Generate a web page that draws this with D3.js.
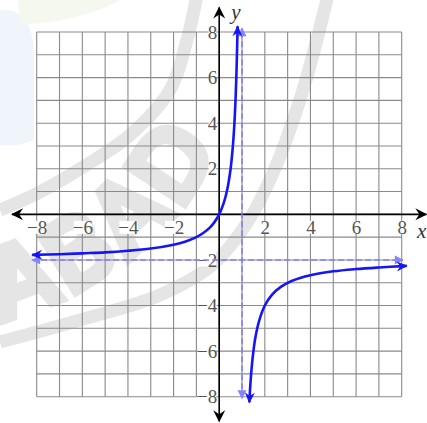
<!DOCTYPE html>
<html lang="en">
<head>
<meta charset="UTF-8">
<title>Rational function graph</title>
<script src="https://d3js.org/d3.v7.min.js"></script>
<style>
    body { margin: 0; background: #ffffff; }
    svg { display: block; }
</style>
</head>
<body>
<div id="chart"></div>
<script>
    // tick labels on both axes
    const xTicks = [-8, -6, -4, -2, 2, 4, 6, 8];
    const yTicks = [-8, -6, -4, -2, 2, 4, 6, 8];

    // left / upper branch
    const leftX = [-8.2, -7, -6, -5, -4, -3, -2, -1.5, -1, -0.7, -0.4, -0.2, 0, 0.2, 0.35, 0.5, 0.6, 0.67, 0.72, 0.76, 0.79, 0.806];
    const leftY = [-1.78, -1.75, -1.71, -1.67, -1.6, -1.5, -1.33, -1.2, -1.0, -0.82, -0.57, -0.33, 0, 0.5, 1.08, 2, 3, 4.06, 5.14, 6.33, 7.52, 8.25];

    // right / lower branch
    const rightX = [1.32, 1.36, 1.42, 1.5, 1.6, 1.75, 2, 2.3, 2.7, 3.2, 4, 5, 6, 7, 8.22];
    const rightY = [-8.25, -7.56, -6.76, -6, -5.33, -4.67, -4, -3.54, -3.18, -2.91, -2.67, -2.5, -2.4, -2.33, -2.26];

    // asymptotes x = 1 and y = -2 (dashed)
    const vAsym = { x: 1, y: [-8.07, 8.16] };
    const hAsym = { y: -2, x: [-8.2, 8.05] };

    const width = 427, height = 423;
    const gridLines = d3.range(-8, 9);
    const axisReach = 9.08;
    const labelFont = "'Liberation Serif', 'DejaVu Serif', serif";

    const x = d3.scaleLinear().domain([-8, 8]).range([36.7, 401.7]);
    const y = d3.scaleLinear().domain([-8, 8]).range([396.7, 32]);

    const svg = d3.select("#chart").append("svg")
        .attr("width", width).attr("height", height);

    // arrow heads
    const defs = svg.append("defs");
    function marker(id, d, color) {
        defs.append("marker")
            .attr("id", id)
            .attr("viewBox", "-16 -8 18 16")
            .attr("refX", 0).attr("refY", 0)
            .attr("markerWidth", 18).attr("markerHeight", 16)
            .attr("markerUnits", "userSpaceOnUse")
            .attr("orient", "auto-start-reverse")
            .append("path").attr("d", d).attr("fill", color);
    }
    marker("axisArrow", "M1,0 L-11,-6 L-7,0 L-11,6 Z", "#000");
    marker("curveArrow", "M1,0 L-10,-5 L-6.5,0 L-10,5 Z", "#1515f5");
    marker("asymArrow", "M1,0 L-8,-4.5 L-8,4.5 Z", "#8585ff");

    // faint watermark behind everything
    const wm = svg.append("g").attr("class", "watermark");
    wm.append("path")
        .attr("d", "M0,10 C20,8 35,20 34,60 L34,140 C20,146 8,146 0,145 Z")
        .attr("fill", "#f0f4fb");
    wm.append("path")
        .attr("d", "M18,0 L120,0 C100,12 60,24 20,24 Z")
        .attr("fill", "#f4f8ee");
    const wmLine = d3.line().curve(d3.curveCatmullRom);
    wm.append("path")
        .attr("d", wmLine([[328, -5], [303, 90], [273, 173], [247, 223], [212, 265], [160, 295], [80, 320], [0, 342]]))
        .attr("fill", "none").attr("stroke", "#e5e5e5").attr("stroke-width", 13);
    wm.append("path")
        .attr("d", wmLine([[197, -5], [187, 40], [170, 90], [130, 135], [83, 167], [40, 192], [0, 210]]))
        .attr("fill", "none").attr("stroke", "#e5e5e5").attr("stroke-width", 13);
    const cx = -79, cy = -7, r = 335;
    const a0 = 76 * Math.PI / 180, a1 = 5 * Math.PI / 180;
    defs.append("path").attr("id", "wmText")
        .attr("d", `M${cx + r * Math.cos(a0)},${cy + r * Math.sin(a0)} A${r},${r} 0 0 0 ${cx + r * Math.cos(a1)},${cy + r * Math.sin(a1)}`);
    wm.append("text")
        .attr("font-family", "'DejaVu Sans', sans-serif")
        .attr("font-size", 92)
        .attr("fill", "none").attr("stroke", "#e5e5e5").attr("stroke-width", 10)
        .attr("letter-spacing", 7)
        .append("textPath").attr("href", "#wmText")
        .text("ABAD");

    // grid
    const grid = svg.append("g").attr("stroke", "#8a8a8a").attr("stroke-width", 1.1);
    grid.selectAll(".gx").data(gridLines).join("line")
        .attr("x1", d => x(d)).attr("x2", d => x(d))
        .attr("y1", y(-8)).attr("y2", y(8));
    grid.selectAll(".gy").data(gridLines).join("line")
        .attr("y1", d => y(d)).attr("y2", d => y(d))
        .attr("x1", x(-8)).attr("x2", x(8));

    // axes with arrows at both ends
    svg.append("line")
        .attr("x1", x(-axisReach)).attr("x2", x(axisReach))
        .attr("y1", y(0)).attr("y2", y(0))
        .attr("stroke", "#000").attr("stroke-width", 1.6)
        .attr("marker-start", "url(#axisArrow)").attr("marker-end", "url(#axisArrow)");
    svg.append("line")
        .attr("y1", y(-axisReach)).attr("y2", y(axisReach))
        .attr("x1", x(0)).attr("x2", x(0))
        .attr("stroke", "#000").attr("stroke-width", 1.6)
        .attr("marker-start", "url(#axisArrow)").attr("marker-end", "url(#axisArrow)");

    // tick labels; a white box underneath hides the grid behind them
    function styleTicks(g) {
        g.select(".domain").remove();
        g.selectAll(".tick text")
            .attr("font-family", labelFont)
            .attr("font-size", 19)
            .attr("fill", "#555");
        g.selectAll(".tick").each(function () {
            const t = d3.select(this).select("text");
            const b = t.node().getBBox();
            d3.select(this).insert("rect", "text")
                .attr("x", b.x + 1).attr("y", b.y + 4)
                .attr("width", b.width - 2).attr("height", b.height - 8)
                .attr("fill", "#fff");
        });
    }
    svg.append("g")
        .attr("transform", `translate(0,${y(0)})`)
        .call(d3.axisBottom(x).tickValues(xTicks).tickSize(0).tickPadding(6))
        .call(styleTicks);
    svg.append("g")
        .attr("transform", `translate(${x(0)},0)`)
        .call(d3.axisLeft(y).tickValues(yTicks).tickSize(0).tickPadding(2))
        .call(styleTicks);

    svg.append("text")
        .attr("font-family", labelFont).attr("font-style", "italic").attr("font-size", 21).attr("fill", "#333")
        .attr("x", x(0) + 12).attr("y", 19).text("y");
    svg.append("text")
        .attr("font-family", labelFont).attr("font-style", "italic").attr("font-size", 21).attr("fill", "#333")
        .attr("x", 417).attr("y", 238).text("x");

    // asymptotes
    svg.append("line")
        .attr("x1", x(vAsym.x)).attr("x2", x(vAsym.x))
        .attr("y1", y(vAsym.y[0])).attr("y2", y(vAsym.y[1]))
        .attr("stroke", "#8080ff").attr("stroke-width", 1.6).attr("stroke-dasharray", "6,3")
        .attr("marker-start", "url(#asymArrow)").attr("marker-end", "url(#asymArrow)");
    svg.append("line")
        .attr("x1", x(hAsym.x[0])).attr("x2", x(hAsym.x[1]))
        .attr("y1", y(hAsym.y)).attr("y2", y(hAsym.y))
        .attr("stroke", "#8080ff").attr("stroke-width", 1.6).attr("stroke-dasharray", "6,3")
        .attr("marker-start", "url(#asymArrow)").attr("marker-end", "url(#asymArrow)");

    // the two branches
    const line = d3.line()
        .x(d => x(d[0])).y(d => y(d[1]))
        .curve(d3.curveCatmullRom.alpha(0.5));
    const branches = [d3.zip(leftX, leftY), d3.zip(rightX, rightY)];
    svg.selectAll(".branch").data(branches).join("path")
        .attr("class", "branch")
        .attr("d", line)
        .attr("fill", "none")
        .attr("stroke", "#1515f5")
        .attr("stroke-width", 2.6)
        .attr("marker-start", "url(#curveArrow)")
        .attr("marker-end", "url(#curveArrow)");
</script>
</body>
</html>
